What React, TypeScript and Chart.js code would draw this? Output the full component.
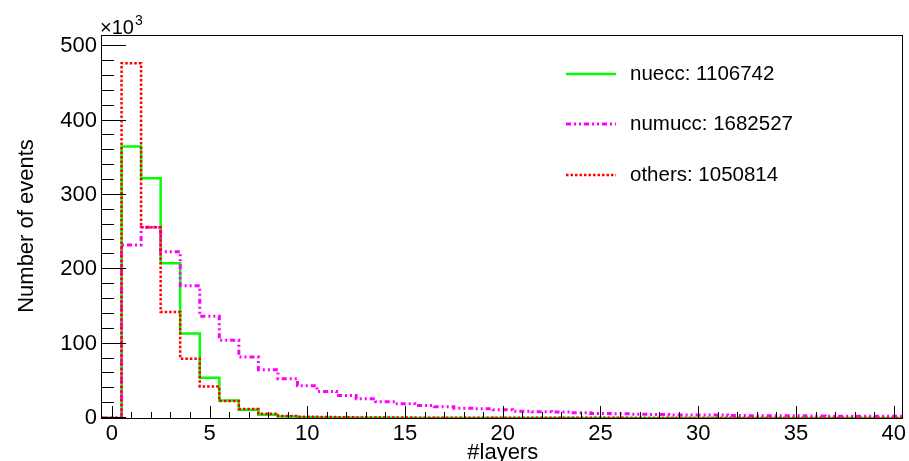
import { useEffect, useRef } from "react";
import { Chart, registerables } from "chart.js";

Chart.register(...registerables);

// Number of layers (bin centres, bin width 1)
const layers = [0, 1, 2, 3, 4, 5, 6, 7, 8, 9, 10, 11, 12, 13, 14, 15, 16, 17, 18, 19, 20,
  21, 22, 23, 24, 25, 26, 27, 28, 29, 30, 31, 32, 33, 34, 35, 36, 37, 38, 39, 40];

// Number of events, in units of 10^3
const nuecc = [0, 365, 322.5, 208, 113.5, 54.2, 23.6, 11, 4.5, 2, 1, 0.6, 0.4, 0.3, 0.2, 0.15,
  0.1, 0.08, 0.06, 0.05, 0.04, 0.03, 0.03, 0.02, 0.02, 0.02,
  0.01, 0.01, 0.01, 0.01, 0.01, 0.01, 0.01, 0.01, 0.01, 0.01, 0.01, 0.01, 0.01, 0.01, 0.01];
const numucc = [0, 232.6, 256.5, 223.6, 177.7, 136.9, 104.5, 82, 65, 52.8, 43.4, 35.7, 30.3,
  25.9, 21.8, 19.1, 16.9, 15, 13.2, 12.4, 11, 9.2, 8.4, 8.1, 7, 6.1, 5.6, 5.1, 4.7, 4.2, 4.2,
  4.2, 3.2, 3.1, 3, 3, 2.6, 2.3, 2.2, 2.2, 2.2];
const others = [0, 477, 256.5, 142.7, 79.8, 42.5, 22.7, 12, 5.6, 2.8, 1.6, 1.2, 1, 0.8, 0.7,
  0.6, 0.5, 0.45, 0.4, 0.35, 0.3, 0.3, 0.25, 0.25, 0.2, 0.2, 0.2, 0.15, 0.15, 0.15,
  0.1, 0.1, 0.1, 0.1, 0.1, 0.1, 0.1, 0.1, 0.1, 0.1, 0.1];

const xTickValues = [0, 5, 10, 15, 20, 25, 30, 35, 40];
const yTickValues = [0, 100, 200, 300, 400, 500];
const legendLabels = ["nuecc: 1106742", "numucc: 1682527", "others: 1050814"];
const xTitle = "#layers";
const yTitle = "Number of events";
const yMultiplier = "\u00d710";
const yExponent = "3";

const FONT = '"Liberation Sans", Arial, Helvetica, sans-serif';
const GREEN = "#00ff00";
const MAGENTA = "#ff00ff";
const RED = "#ff0000";
const MAGENTA_DASH = [5, 3, 2, 3, 2, 3];
const RED_DASH = [2.5, 2];

function histPoints(values: number[]) {
  const pts = layers.map((l, i) => ({ x: l - 0.5, y: values[i] }));
  pts.push({ x: layers[layers.length - 1] + 0.5, y: values[values.length - 1] });
  return pts;
}

const decorPlugin = {
  id: "decor",
  afterDraw(chart: any) {
    const { ctx, chartArea } = chart;
    const xs = chart.scales.x;
    const ys = chart.scales.y;
    const { left, right, top, bottom } = chartArea;
    ctx.save();
    ctx.strokeStyle = "#000";
    ctx.lineWidth = 1;
    ctx.setLineDash([]);
    // frame
    ctx.strokeRect(Math.round(left) - 0.5, Math.round(top) + 0.5, Math.round(right - left), Math.round(bottom - top));
    // y ticks
    ctx.beginPath();
    for (let v = 0; v <= ys.max; v += 20) {
      const y = Math.round(ys.getPixelForValue(v)) - 0.5;
      const len = v % 100 === 0 ? 24 : 12;
      ctx.moveTo(left, y);
      ctx.lineTo(left + len, y);
    }
    // x ticks
    for (let v = 0; v <= 40; v += 1) {
      const x = Math.round(xs.getPixelForValue(v)) + 0.5;
      const len = v % 5 === 0 ? 12 : 6;
      ctx.moveTo(x, bottom);
      ctx.lineTo(x, bottom - len);
    }
    ctx.stroke();

    // exponent
    ctx.fillStyle = "#000";
    ctx.textBaseline = "alphabetic";
    ctx.textAlign = "left";
    ctx.font = `20px ${FONT}`;
    ctx.fillText(yMultiplier, 100, 33.5);
    const w = ctx.measureText(yMultiplier).width;
    ctx.font = `14px ${FONT}`;
    ctx.fillText(yExponent, 100 + w + 1, 24.5);

    // axis titles
    ctx.font = `22px ${FONT}`;
    ctx.textAlign = "center";
    ctx.fillText(xTitle, (left + right) / 2, 459);
    ctx.save();
    ctx.translate(33, 226);
    ctx.rotate(-Math.PI / 2);
    ctx.fillText(yTitle, 0, 0);
    ctx.restore();

    // legend
    const rows = [
      { color: GREEN, dash: [] as number[], width: 2.5, y: 74 },
      { color: MAGENTA, dash: MAGENTA_DASH, width: 3, y: 124 },
      { color: RED, dash: RED_DASH, width: 2.5, y: 175 },
    ];
    ctx.font = `20.5px ${FONT}`;
    ctx.textAlign = "left";
    ctx.textBaseline = "middle";
    rows.forEach((r, i) => {
      ctx.beginPath();
      ctx.strokeStyle = r.color;
      ctx.lineWidth = r.width;
      ctx.setLineDash(r.dash);
      ctx.moveTo(566, r.y);
      ctx.lineTo(616, r.y);
      ctx.stroke();
      ctx.setLineDash([]);
      ctx.fillStyle = "#000";
      ctx.fillText(legendLabels[i], 630, r.y);
    });
    ctx.restore();
  },
};

export default function App() {
  const ref = useRef<HTMLCanvasElement | null>(null);
  useEffect(() => {
    if (!ref.current) return;
    const chart = new Chart(ref.current, {
      type: "line",
      data: {
        datasets: [
          {
            label: "nuecc",
            data: histPoints(nuecc),
            borderColor: GREEN,
            borderWidth: 2.5,
            stepped: "before",
            pointRadius: 0,
            fill: false,
            order: 2,
          },
          {
            label: "numucc",
            data: histPoints(numucc),
            borderColor: MAGENTA,
            borderWidth: 3,
            borderDash: MAGENTA_DASH,
            stepped: "before",
            pointRadius: 0,
            fill: false,
            order: 1,
          },
          {
            label: "others",
            data: histPoints(others),
            borderColor: RED,
            borderWidth: 2.5,
            borderDash: RED_DASH,
            stepped: "before",
            pointRadius: 0,
            fill: false,
            order: 0,
          },
        ],
      },
      options: {
        responsive: false,
        animation: false,
        devicePixelRatio: 1,
        layout: { padding: { left: 0, right: 5, top: 35, bottom: 0 } },
        plugins: { legend: { display: false }, tooltip: { enabled: false } },
        scales: {
          x: {
            type: "linear",
            min: -0.5,
            max: 40.5,
            grid: { display: false, drawTicks: false },
            border: { display: false },
            afterBuildTicks: (s: any) => {
              s.ticks = xTickValues.map((v) => ({ value: v }));
            },
            afterFit: (s: any) => {
              s.height = 43;
            },
            ticks: {
              autoSkip: false,
              maxRotation: 0,
              padding: 3,
              color: "#000",
              font: { family: FONT, size: 22 },
            },
          },
          y: {
            type: "linear",
            min: 0,
            max: 515,
            grid: { display: false, drawTicks: false },
            border: { display: false },
            afterBuildTicks: (s: any) => {
              s.ticks = yTickValues.map((v) => ({ value: v }));
            },
            afterFit: (s: any) => {
              s.width = 102;
            },
            ticks: {
              autoSkip: false,
              padding: 5,
              color: "#000",
              font: { family: FONT, size: 22 },
            },
          },
        },
      },
      plugins: [decorPlugin],
    } as any);
    return () => chart.destroy();
  }, []);
  return (
    <div style={{ position: "fixed", left: 0, top: 0, width: 909, height: 461, background: "#fff" }}>
      <canvas ref={ref} width={909} height={461} style={{ display: "block" }} />
    </div>
  );
}
